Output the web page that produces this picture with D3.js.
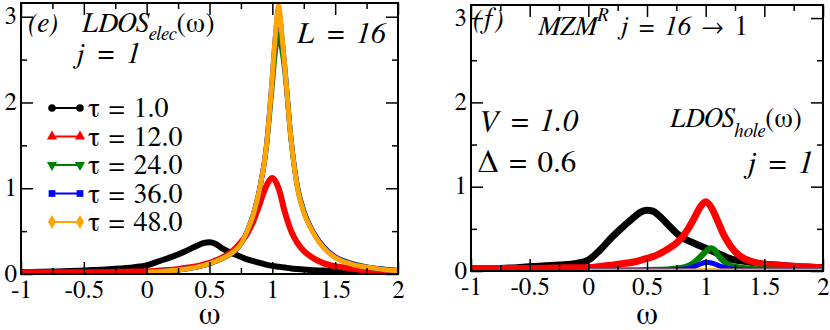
<!DOCTYPE html>
<html>
<head>
<meta charset="utf-8">
<script src="https://cdn.jsdelivr.net/npm/d3@7"></script>
<style>
    body { margin: 0; background: #fff; }
    .tick line { stroke: #000; stroke-width: 1.5; }
</style>
</head>
<body>
<div id="chart"></div>
<script>
// tick values and legend labels
const xTicks = [-1, -0.5, 0, 0.5, 1, 1.5, 2];
const xMinor = [-0.75, -0.25, 0.25, 0.75, 1.25, 1.75];
const yTicks = [0, 1, 2, 3];
const yMinor = [0.5, 1.5, 2.5];
const tauLabels = ['τ = 1.0', 'τ = 12.0', 'τ = 24.0', 'τ = 36.0', 'τ = 48.0'];

// omega grids
const gridFull = [-1, -0.75, -0.5, -0.25, -0.1, 0, 0.1, 0.2, 0.3, 0.4, 0.45, 0.5, 0.55, 0.6, 0.7, 0.75,
    0.8, 0.85, 0.9, 0.95, 1.0, 1.05, 1.1, 1.15, 1.2, 1.25, 1.3, 1.4, 1.5, 1.6, 1.7, 1.8, 1.9, 2.0];
const gridHalf = [0, 0.1, 0.2, 0.3, 0.4, 0.5, 0.6, 0.7, 0.75, 0.8, 0.85, 0.9, 0.95, 1.0, 1.025, 1.05,
    1.075, 1.1, 1.15, 1.2, 1.25, 1.3, 1.35, 1.4, 1.5, 1.6, 1.7, 1.8, 1.9, 2.0];

// panel (e): LDOS_elec, j = 1
const eTau1 = [0.02, 0.03, 0.04, 0.06, 0.08, 0.1, 0.15, 0.2, 0.26, 0.33, 0.36, 0.37, 0.35, 0.3, 0.23, 0.2,
    0.17, 0.15, 0.13, 0.11, 0.095, 0.085, 0.075, 0.065, 0.058, 0.052, 0.047, 0.04, 0.035, 0.03, 0.025, 0.02, 0.018, 0.015];
const eTau12 = [0.02, 0.02, 0.02, 0.025, 0.03, 0.03, 0.04, 0.05, 0.07, 0.09, 0.11, 0.13, 0.16, 0.19, 0.29, 0.37,
    0.47, 0.62, 0.82, 1.02, 1.12, 1.0, 0.72, 0.5, 0.36, 0.27, 0.21, 0.13, 0.09, 0.07, 0.05, 0.04, 0.035, 0.03];
const eTau24 = [0.02, 0.03, 0.04, 0.055, 0.08, 0.12, 0.18, 0.27, 0.35, 0.5, 0.7, 1.0, 1.45, 2.2, 2.6, 2.8,
    2.62, 2.35, 1.55, 1.02, 0.74, 0.56, 0.43, 0.33, 0.2, 0.14, 0.1, 0.07, 0.055, 0.045];
const eTau36 = [0.02, 0.03, 0.04, 0.055, 0.08, 0.12, 0.18, 0.27, 0.35, 0.5, 0.7, 1.0, 1.45, 2.3, 2.78, 3.08,
    2.78, 2.4, 1.56, 1.01, 0.73, 0.56, 0.43, 0.33, 0.2, 0.135, 0.095, 0.07, 0.052, 0.042];
const eTau48 = [0.02, 0.03, 0.04, 0.055, 0.08, 0.12, 0.18, 0.27, 0.35, 0.5, 0.7, 1.0, 1.45, 2.3, 2.8, 3.13,
    2.8, 2.4, 1.55, 1.0, 0.72, 0.55, 0.42, 0.32, 0.19, 0.13, 0.09, 0.07, 0.05, 0.04];

// panel (f): LDOS_hole, MZM^R j = 16 -> 1
const fTau1 = [0.02, 0.03, 0.05, 0.07, 0.09, 0.13, 0.25, 0.4, 0.53, 0.65, 0.7, 0.72, 0.71, 0.66, 0.52, 0.45,
    0.4, 0.36, 0.33, 0.3, 0.27, 0.24, 0.21, 0.18, 0.15, 0.13, 0.12, 0.1, 0.08, 0.07, 0.06, 0.05, 0.045, 0.04];
const fTau12 = [0.03, 0.03, 0.03, 0.035, 0.04, 0.04, 0.055, 0.07, 0.09, 0.11, 0.13, 0.15, 0.17, 0.2, 0.28, 0.33,
    0.4, 0.5, 0.62, 0.75, 0.82, 0.75, 0.6, 0.44, 0.32, 0.23, 0.17, 0.11, 0.08, 0.07, 0.06, 0.05, 0.045, 0.04];
const fTau24 = [0.01, 0.01, 0.01, 0.01, 0.01, 0.012, 0.015, 0.02, 0.03, 0.04, 0.06, 0.1, 0.16, 0.23, 0.26, 0.27,
    0.25, 0.2, 0.12, 0.07, 0.05, 0.04, 0.03, 0.025, 0.02, 0.015, 0.012, 0.01, 0.01, 0.01];
const fTau36 = [0.005, 0.005, 0.005, 0.005, 0.005, 0.006, 0.008, 0.012, 0.015, 0.02, 0.03, 0.05, 0.08, 0.1, 0.1, 0.095,
    0.085, 0.07, 0.045, 0.03, 0.02, 0.015, 0.012, 0.01, 0.008, 0.006, 0.005, 0.005, 0.005, 0.005];
const fTau48 = [0, 0, 0, 0, 0, 0, 0, 0, 0, 0, 0, 0, 0.002, 0.003, 0.003, 0.003,
    0.003, 0.002, 0, 0, 0, 0, 0, 0, 0, 0, 0, 0, 0, 0];

const colors = ['#000000', '#ff0000', '#008000', '#0000ff', '#ffa500'];
const symbols = [d3.symbolCircle, d3.symbolTriangle, d3.symbolTriangle, d3.symbolSquare, d3.symbolDiamond];
const serif = '"FreeSerif", "Liberation Serif", "Times New Roman"';

const width = 830;
const height = 330;

const svg = d3.select('#chart')
    .append('svg')
    .attr('width', width)
    .attr('height', height);

function cleanAxis(a) {
    a.select('.domain').remove();
    a.attr('font-family', null).attr('font-size', 25);
    a.selectAll('text').attr('fill', '#000');
}

function drawPanel(opts) {
    const x = d3.scaleLinear().domain([-1, 2]).range([opts.left, opts.right]);
    const y = d3.scaleLinear().domain([0, opts.yMax]).range([opts.bottom, opts.top]);

    const g = svg.append('g');

    const clipId = 'clip-' + opts.id;
    g.append('clipPath').attr('id', clipId)
        .append('rect')
        .attr('x', opts.left).attr('y', opts.top)
        .attr('width', opts.right - opts.left)
        .attr('height', opts.bottom - opts.top);

    // curves
    const line = d3.line()
        .x((d) => x(d[0]))
        .y((d) => y(d[1]))
        .curve(d3.curveMonotoneX);

    const curves = g.append('g').attr('clip-path', `url(#${clipId})`);
    opts.series.forEach((s, i) => {
        curves.append('path')
            .datum(s.grid.map((w, k) => [w, s.values[k]]))
            .attr('d', line)
            .attr('fill', 'none')
            .attr('stroke', colors[i])
            .attr('stroke-width', opts.strokes[i])
            .attr('stroke-linejoin', 'round');
    });

    // ticks on all four sides, pointing inward
    const fmt = (d) => String(d);
    g.append('g')
        .attr('transform', `translate(0, ${opts.bottom})`)
        .call(d3.axisBottom(x).tickValues(xTicks).tickSize(-12).tickPadding(6).tickFormat(fmt))
        .call(cleanAxis);
    g.append('g')
        .attr('transform', `translate(0, ${opts.bottom})`)
        .call(d3.axisBottom(x).tickValues(xMinor).tickSize(-6).tickFormat(''))
        .call(cleanAxis);
    g.append('g')
        .attr('transform', `translate(0, ${opts.top})`)
        .call(d3.axisTop(x).tickValues(xTicks).tickSize(-12).tickFormat(''))
        .call(cleanAxis);
    g.append('g')
        .attr('transform', `translate(0, ${opts.top})`)
        .call(d3.axisTop(x).tickValues(xMinor).tickSize(-6).tickFormat(''))
        .call(cleanAxis);

    g.append('g')
        .attr('transform', `translate(${opts.left}, 0)`)
        .call(d3.axisLeft(y).tickValues(yTicks).tickSize(-12).tickPadding(4).tickFormat(fmt))
        .call(cleanAxis)
        .selectAll('text').attr('dy', '0.28em');
    g.append('g')
        .attr('transform', `translate(${opts.left}, 0)`)
        .call(d3.axisLeft(y).tickValues(yMinor).tickSize(-6).tickFormat(''))
        .call(cleanAxis);
    g.append('g')
        .attr('transform', `translate(${opts.right}, 0)`)
        .call(d3.axisRight(y).tickValues(yTicks).tickSize(-12).tickFormat(''))
        .call(cleanAxis);
    g.append('g')
        .attr('transform', `translate(${opts.right}, 0)`)
        .call(d3.axisRight(y).tickValues(yMinor).tickSize(-6).tickFormat(''))
        .call(cleanAxis);

    // frame
    g.append('rect')
        .attr('x', opts.left).attr('y', opts.top)
        .attr('width', opts.right - opts.left)
        .attr('height', opts.bottom - opts.top)
        .attr('fill', 'none')
        .attr('stroke', '#000')
        .attr('stroke-width', 2);

    // x axis label
    g.append('text')
        .attr('x', (opts.left + opts.right) / 2)
        .attr('y', 324)
        .attr('text-anchor', 'middle')
        .attr('font-size', 32)
        .text('ω');

    return { x, y, g };
}

const panelE = drawPanel({
    id: 'e', left: 21, right: 398, top: 3, bottom: 274, yMax: 3.16,
    strokes: [6, 6, 5, 5, 5],
    series: [
        { grid: gridFull, values: eTau1 },
        { grid: gridFull, values: eTau12 },
        { grid: gridHalf, values: eTau24 },
        { grid: gridHalf, values: eTau36 },
        { grid: gridHalf, values: eTau48 },
    ],
});

const panelF = drawPanel({
    id: 'f', left: 471, right: 823, top: 5, bottom: 271, yMax: 3.155,
    strokes: [7, 7, 6, 5, 5],
    series: [
        { grid: gridFull, values: fTau1 },
        { grid: gridFull, values: fTau12 },
        { grid: gridHalf, values: fTau24 },
        { grid: gridHalf, values: fTau36 },
        { grid: gridHalf, values: fTau48 },
    ],
});

// legend in panel (e)
const legend = panelE.g.append('g');
tauLabels.forEach((label, i) => {
    const ly = 108 + i * 28.5;
    legend.append('line')
        .attr('x1', 52).attr('x2', 80)
        .attr('y1', ly).attr('y2', ly)
        .attr('stroke', colors[i])
        .attr('stroke-width', 2);
    [52, 80].forEach((lx) => {
        legend.append('path')
            .attr('d', d3.symbol().type(symbols[i]).size(i === 4 ? 55 : 45))
            .attr('transform', `translate(${lx}, ${ly})` + (i === 2 ? ' rotate(180)' : ''))
            .attr('fill', colors[i]);
    });
    legend.append('text')
        .attr('x', 88)
        .attr('y', ly + 9)
        .attr('font-size', 28)
        .style('word-spacing', '2px')
        .text(label);
});

// annotations
function note(g, x, y, size, parts, opts = {}) {
    const t = g.append('text')
        .attr('x', x)
        .attr('y', y)
        .attr('font-size', size)
        .attr('font-style', opts.upright ? 'normal' : 'italic')
        .style('white-space', 'pre')
        .style('word-spacing', (opts.ws || 0) + 'px');
    parts.forEach((p) => {
        const ts = t.append('tspan').text(p.text);
        if (p.x) ts.attr('x', p.x);
        if (p.dy) ts.attr('dy', p.dy);
        if (p.size) ts.attr('font-size', p.size);
        if (p.upright) ts.attr('font-style', 'normal');
    });
    return t;
}

note(panelE.g, 28, 32, 28, [{ text: '(e)' }, { text: 'LDOS', x: 82 }, { text: 'elec', size: 19, dy: 8 }, { text: '(ω)', dy: -8, upright: true }]);
note(panelE.g, 75, 63, 29, [{ text: 'j = 1' }], { ws: 6 });
note(panelE.g, 297, 43, 30, [{ text: 'L = 16' }], { ws: 5 });

note(panelF.g, 473, 28, 28, [{ text: '(f)' }]);
note(panelF.g, 538, 35, 27, [{ text: 'MZM' }, { text: 'R', size: 19, dy: -14 }, { text: ' j = 16 ', dy: 14 }, { text: '→ 1', upright: true }], { ws: 4 });
note(panelF.g, 478, 131, 31, [{ text: 'V = 1.0' }], { ws: 4 });
note(panelF.g, 478, 172, 31, [{ text: 'Δ = 0.6' }], { upright: true, ws: 3 });
note(panelF.g, 670, 127, 27, [{ text: 'LDOS' }, { text: 'hole', size: 19, dy: 10 }, { text: '(ω)', dy: -10, upright: true }]);
note(panelF.g, 746, 173, 31, [{ text: 'j = 1' }], { ws: 5 });

// serif face on every text, set inline
svg.selectAll('text').style('font-family', serif);
</script>
</body>
</html>
